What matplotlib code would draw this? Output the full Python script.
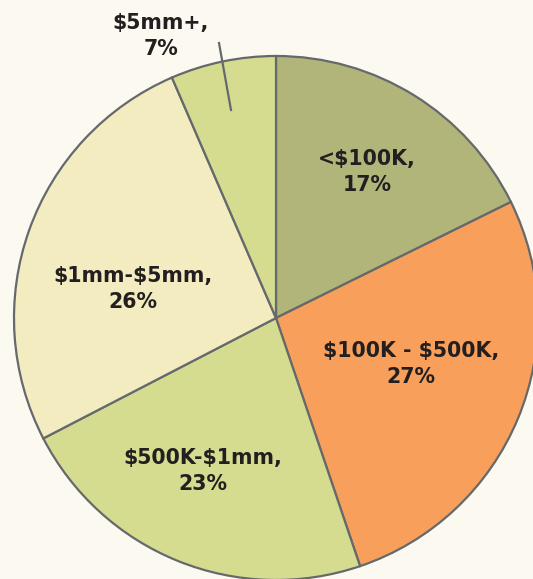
import matplotlib.pyplot as plt

# slice shares and the printed percentages
categories = ['<$100K', '$100K - $500K', '$500K-$1mm', '$1mm-$5mm', '$5mm+']
shares = [17.7, 27.1, 22.6, 26.1, 6.5]
pct_labels = [17, 27, 23, 26, 7]
colors = ['#b1b57a', '#f8a05b', '#d5dc90', '#f2ecc0', '#d5dc90']

W, H = 533, 579
fig = plt.figure(figsize=(W / 100, H / 100), dpi=100)
fig.patch.set_facecolor('#fcf9f1')
ax = fig.add_axes([0, 0, 1, 1])

cx, cy, r = 276, H - 318, 262
ax.pie(shares, colors=colors, startangle=90, counterclock=False,
       center=(cx, cy), radius=r, frame=True,
       wedgeprops=dict(edgecolor='#66696c', linewidth=1.6))
ax.set_xlim(0, W)
ax.set_ylim(0, H)
ax.set_aspect('equal')
ax.axis('off')

# label positions in pixel coords (x, y from top)
label_pos = [(367, 172), (411, 364), (203, 471), (133, 289), (161, 36)]
for name, pct, (x, y) in zip(categories, pct_labels, label_pos):
    ax.text(x, H - y, f'{name},\n{pct}%', ha='center', va='center',
            fontsize=14.8, fontweight='bold', family='DejaVu Sans',
            color='#231f20', linespacing=1.4, parse_math=False)

# leader line for the small slice
ax.plot([219, 231], [H - 43, H - 110], color='#66696c', lw=1.6)

fig.savefig('out.png', dpi=100, facecolor=fig.get_facecolor())
